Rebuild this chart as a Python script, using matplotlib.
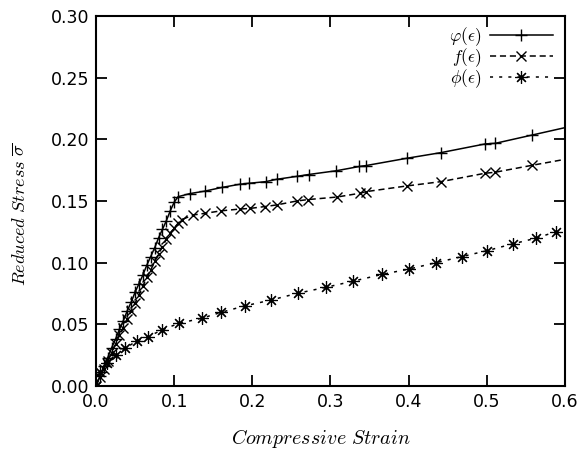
import matplotlib
matplotlib.use("Agg")
import matplotlib.pyplot as plt

plt.rcParams['mathtext.fontset'] = 'cm'
plt.rcParams['font.family'] = ['DejaVu Sans']

# varphi(eps) - solid line with plus markers
varphi_x = [0, 0.005, 0.01, 0.015, 0.02, 0.025, 0.03, 0.035, 0.04, 0.045, 0.05,
            0.055, 0.06, 0.065, 0.07, 0.075, 0.08, 0.085, 0.09, 0.095, 0.10,
            0.105, 0.12, 0.139, 0.161, 0.184, 0.196, 0.217, 0.231, 0.257, 0.272,
            0.307, 0.337, 0.345, 0.398, 0.441, 0.498, 0.511, 0.558, 0.60]
varphi_y = [0, 0.008, 0.016, 0.023, 0.031, 0.038, 0.046, 0.053, 0.061, 0.068, 0.076,
            0.083, 0.090, 0.098, 0.105, 0.112, 0.120, 0.127, 0.134, 0.142, 0.149,
            0.1535, 0.156, 0.158, 0.161, 0.1636, 0.1644, 0.1657, 0.1676, 0.170, 0.1715,
            0.1745, 0.178, 0.1787, 0.1847, 0.1892, 0.1963, 0.1968, 0.2035, 0.2095]

# f(eps) - dashed line with x markers
f_x = [0, 0.005, 0.01, 0.015, 0.02, 0.025, 0.03, 0.035, 0.04, 0.045, 0.05,
       0.055, 0.06, 0.065, 0.07, 0.075, 0.08, 0.085, 0.09, 0.095, 0.10, 0.105, 0.11,
       0.1245, 0.1394, 0.1595, 0.184, 0.197, 0.216, 0.231, 0.2567, 0.2716,
       0.308, 0.3377, 0.3454, 0.3974, 0.4413, 0.4976, 0.5104, 0.5582, 0.60]
f_y = [0, 0.007, 0.014, 0.020, 0.027, 0.034, 0.041, 0.047, 0.054, 0.061, 0.067,
       0.074, 0.081, 0.088, 0.094, 0.101, 0.107, 0.113, 0.119, 0.124, 0.128, 0.132, 0.135,
       0.1387, 0.140, 0.142, 0.1435, 0.144, 0.1455, 0.1468, 0.1500, 0.1512,
       0.1532, 0.1563, 0.1576, 0.1622, 0.1657, 0.1725, 0.1733, 0.179, 0.1838]

# phi(eps) - dotted line with star markers
phi_x = [0, 0.0055, 0.014, 0.025, 0.0375, 0.052, 0.067, 0.084, 0.106, 0.135, 0.16,
         0.19, 0.224, 0.258, 0.294, 0.329, 0.366, 0.401, 0.435, 0.468, 0.50, 0.533,
         0.5625, 0.5885]
phi_y = [0, 0.0116, 0.0184, 0.025, 0.0306, 0.0365, 0.040, 0.0454, 0.0508, 0.0549, 0.0597,
         0.0649, 0.0697, 0.0752, 0.080, 0.085, 0.0905, 0.0949, 0.100, 0.1049, 0.1097, 0.1152,
         0.1198, 0.1251]

xticks = [0.0, 0.1, 0.2, 0.3, 0.4, 0.5, 0.6]
yticks = [0.00, 0.05, 0.10, 0.15, 0.20, 0.25, 0.30]

fig = plt.figure(figsize=(5.79, 4.58), dpi=100)
ax = fig.add_axes([0.1658, 0.1572, 0.81, 0.8078])

ax.plot(varphi_x, varphi_y, color='black', lw=1.1, ls='-', marker='+', ms=8, mew=1.0,
        markevery=slice(0, len(varphi_x) - 1), label=r'$\varphi(\epsilon)$')
ax.plot(f_x, f_y, color='black', lw=1.1, ls=(0, (4, 2.5)), marker='x', ms=7, mew=1.0,
        markevery=slice(0, len(f_x) - 1), label=r'$f(\epsilon)$')
ax.plot(phi_x, phi_y, color='black', lw=1.1, ls=(0, (2, 4)), marker=(8, 2, 0), ms=9, mew=0.85,
        label=r'$\phi(\epsilon)$')

ax.set_xlim(0, 0.6)
ax.set_ylim(0, 0.3)
ax.set_xticks(xticks)
ax.set_xticklabels([f'{v:.1f}' for v in xticks])
ax.set_yticks(yticks)
ax.set_yticklabels([f'{v:.2f}' for v in yticks])
ax.tick_params(direction='in', length=8, width=1.3, top=True, right=True,
               labelsize=12.5, pad=5)
for s in ax.spines.values():
    s.set_linewidth(1.5)

ax.set_xlabel(r'$\mathit{Compressive\ Strain}$', fontsize=14.4)
ax.set_ylabel(r'$\mathit{Reduced\ Stress}\ \overline{\sigma}$', fontsize=13.2)
ax.xaxis.set_label_coords(0.48, -0.112)
ax.yaxis.set_label_coords(-0.143, 0.465)

leg = ax.legend(loc='upper right', bbox_to_anchor=(0.985, 0.99), frameon=False,
                markerfirst=False, numpoints=1,
                handlelength=3.6, fontsize=12.5, labelspacing=-0.08,
                borderaxespad=0.0, handletextpad=0.5, borderpad=0.3)

fig.savefig('out.png', dpi=100)
